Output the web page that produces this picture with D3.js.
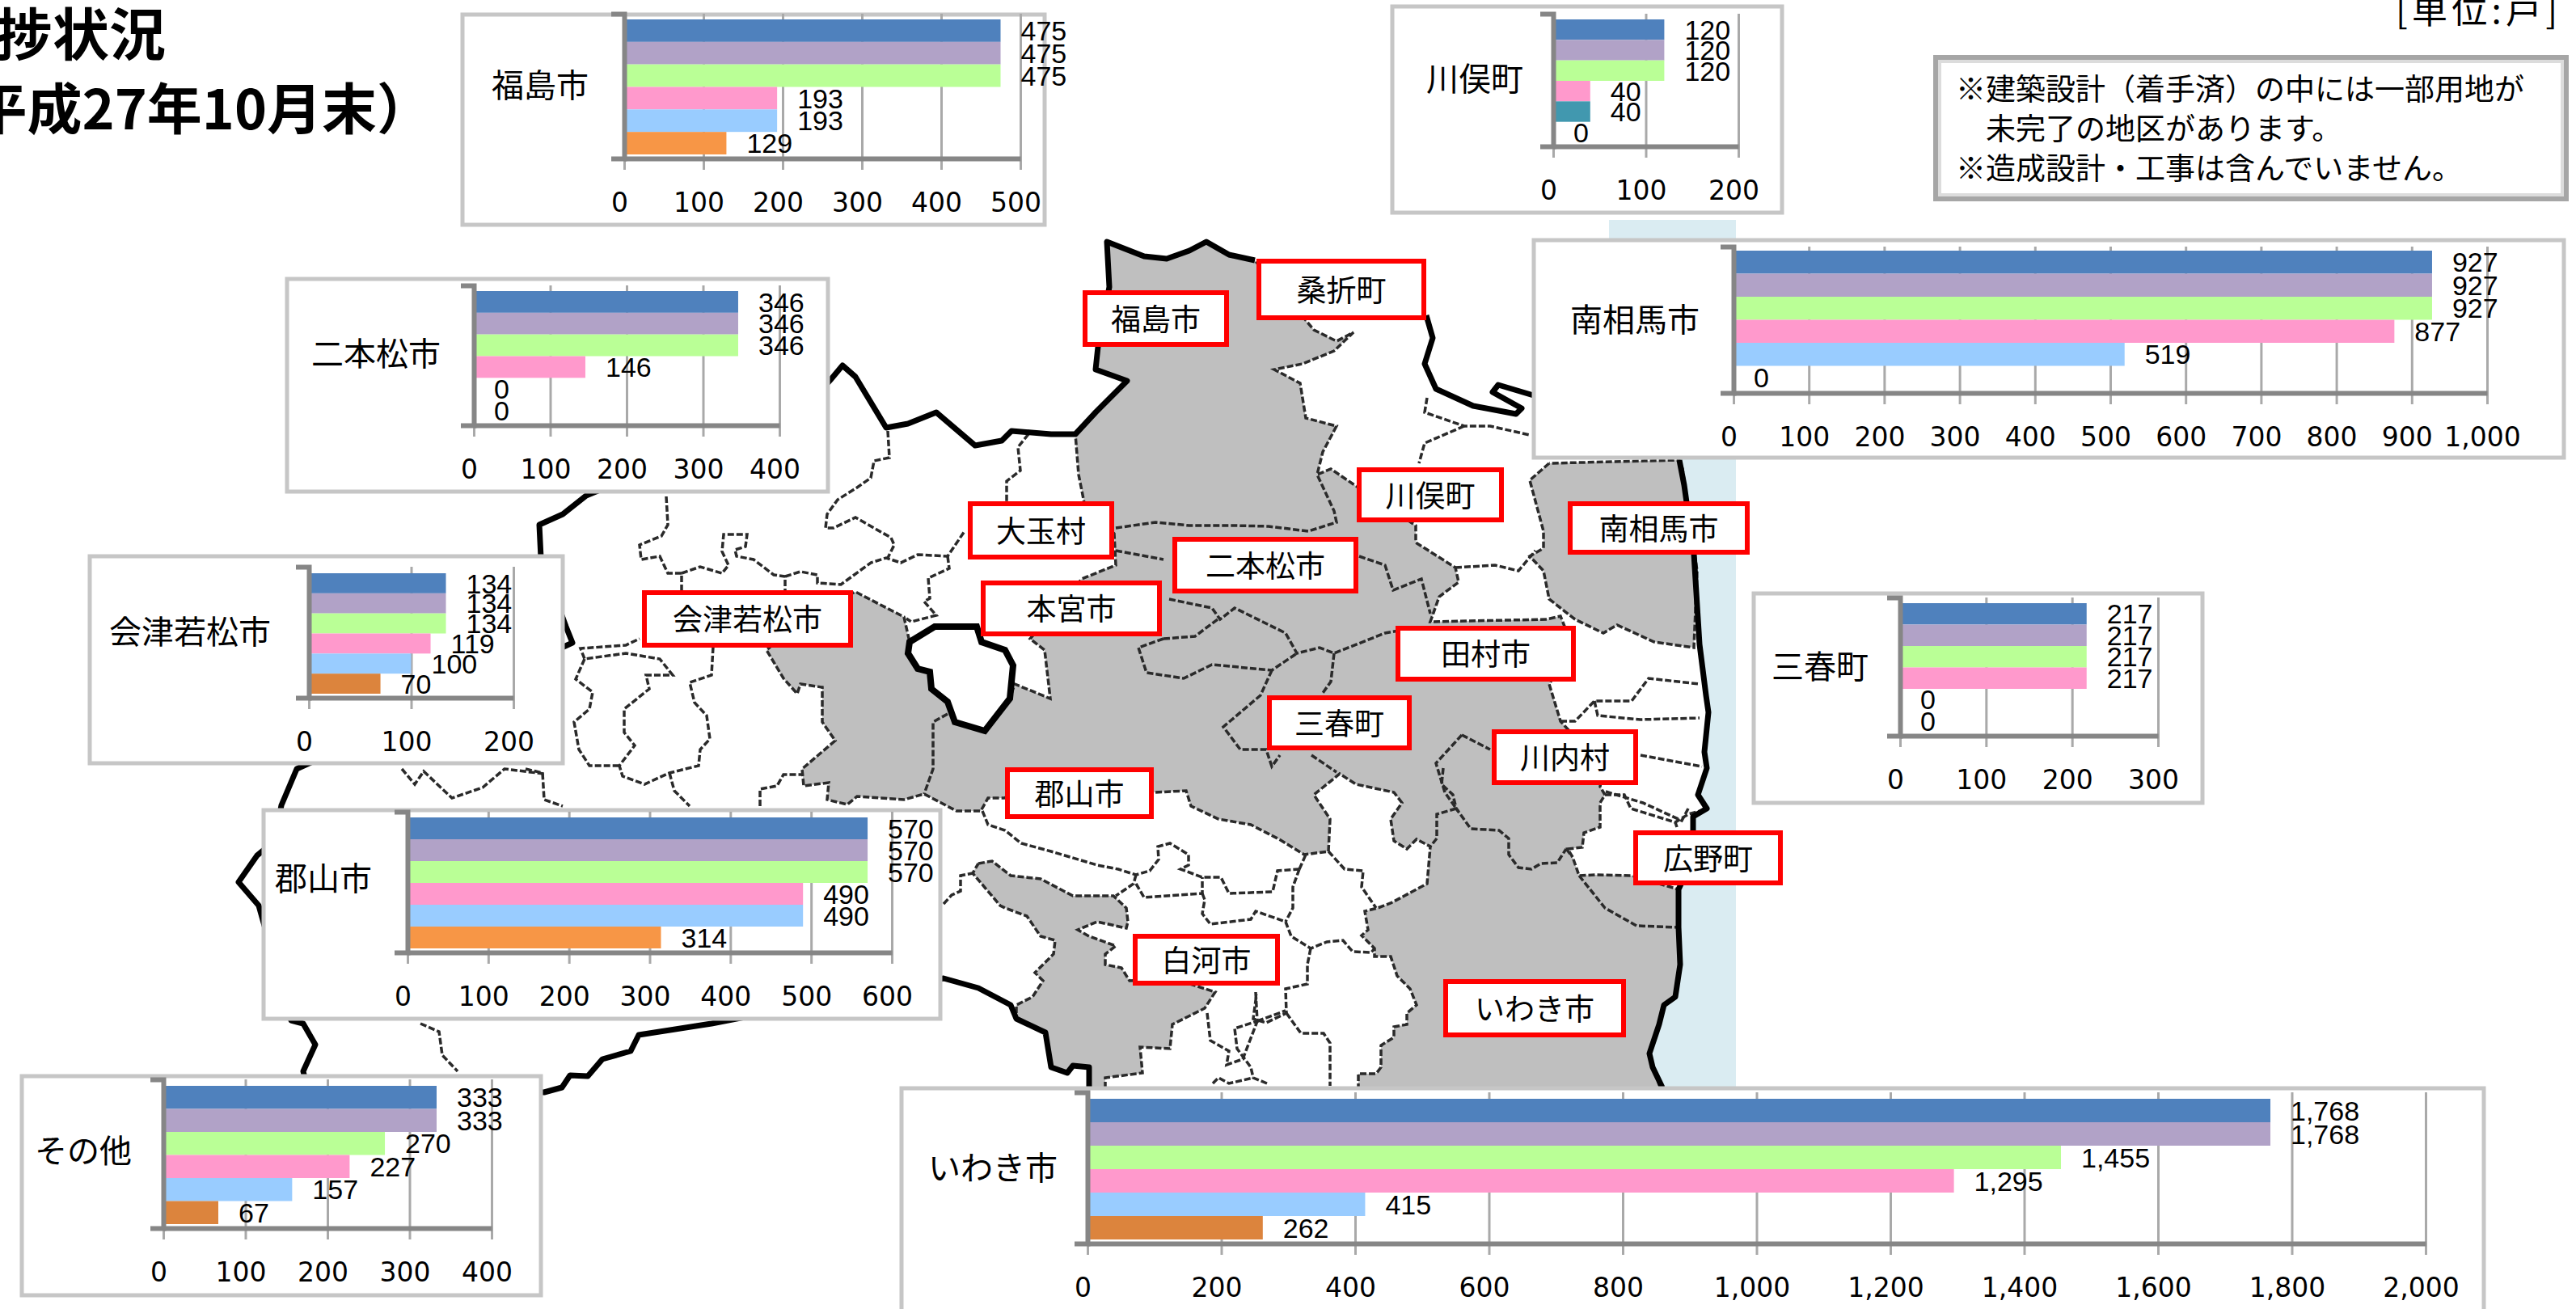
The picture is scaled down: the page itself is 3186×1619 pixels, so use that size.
<!DOCTYPE html>
<html lang="ja">
<head>
<meta charset="utf-8">
<title>進捗状況</title>
<script src="https://cdnjs.cloudflare.com/ajax/libs/d3/7.8.5/d3.min.js"></script>
<style>
  html, body { margin: 0; padding: 0; background: #fff; overflow: hidden; }
  svg { display: block; }
  .jp { font-family: "Noto Sans CJK JP", "Noto Sans", sans-serif; fill: #000; }
  .value { font-family: "Liberation Sans", sans-serif; font-size: 34px; fill: #000; }
  .tick-label { font-family: "DejaVu Sans", sans-serif; font-size: 33px; fill: #000; }
</style>
</head>
<body>
<svg id="chart" width="3186" height="1619" viewBox="0 0 3186 1619"></svg>
<script>
// Households per municipality, six stages each
const fukushimaValues   = [475, 475, 475, 193, 193, 129];
const nihonmatsuValues  = [346, 346, 346, 146, 0, 0];
const aizuValues        = [134, 134, 134, 119, 100, 70];
const koriyamaValues    = [570, 570, 570, 490, 490, 314];
const otherValues       = [333, 333, 270, 227, 157, 67];
const kawamataValues    = [120, 120, 120, 40, 40, 0];
const minamisomaValues  = [927, 927, 927, 877, 519, 0];
const miharuValues      = [217, 217, 217, 217, 0, 0];
const iwakiValues       = [1768, 1768, 1455, 1295, 415, 262];

// Axis tick labels
const ticks200  = [0, 100, 200];
const ticks300  = [0, 100, 200, 300];
const ticks400  = [0, 100, 200, 300, 400];
const ticks500  = [0, 100, 200, 300, 400, 500];
const ticks600  = [0, 100, 200, 300, 400, 500, 600];
const ticks1000 = [0, 100, 200, 300, 400, 500, 600, 700, 800, 900, 1000];
const ticks2000 = [0, 200, 400, 600, 800, 1000, 1200, 1400, 1600, 1800, 2000];

// Bar fills by stage
const stageColors = ["#4f81bd", "#b1a2c7", "#baff96", "#ff99cc", "#99ccff", "#f79646"];
const darkOrange = "#dc843d";
const teal = "#4198af";

// Place names on the map
const placeNames = ["福島市", "桑折町", "川俣町", "南相馬市", "大玉村", "二本松市", "本宮市", "会津若松市",
                    "田村市", "三春町", "川内村", "郡山市", "広野町", "白河市", "いわき市"];
const placeBoxes = [
  [1339, 359, 1520, 429], [1554, 320, 1764, 396], [1678, 578, 1860, 646], [1939, 620, 2164, 686],
  [1197, 620, 1378, 692], [1450, 664, 1680, 734], [1213, 718, 1437, 787], [794, 730, 1055, 801],
  [1726, 774, 1949, 843], [1567, 860, 1746, 928], [1845, 902, 2026, 971], [1243, 949, 1427, 1013],
  [2020, 1027, 2205, 1095], [1401, 1155, 1583, 1219], [1785, 1211, 2011, 1283]
];

// Chart panels: frame, plot area and title position
const panels = [
  { name: "福島市", values: fukushimaValues, ticks: ticks500, frame: [570, 16, 1294, 280], x0: 772, xEnd: 1262, top: 24, axisY: 196, gridTop: 17, title: [668, 106] },
  { name: "二本松市", values: nihonmatsuValues, ticks: ticks400, frame: [353, 343, 1026, 610], x0: 586, xEnd: 964, top: 360, axisY: 526, gridTop: 353, title: [465, 438] },
  { name: "会津若松市", values: aizuValues, ticks: ticks200, frame: [109, 686, 698, 946], x0: 382, xEnd: 635, top: 709, axisY: 863, gridTop: 701, title: [235, 782], last: darkOrange },
  { name: "郡山市", values: koriyamaValues, ticks: ticks600, frame: [324, 1000, 1165, 1262], x0: 504, xEnd: 1103, top: 1011, axisY: 1178, gridTop: 1004, title: [400, 1087] },
  { name: "その他", values: otherValues, ticks: ticks400, frame: [25, 1329, 671, 1604], x0: 202, xEnd: 608, top: 1343, axisY: 1519, gridTop: 1335, title: [103, 1424], last: darkOrange },
  { name: "川俣町", values: kawamataValues, ticks: ticks200, frame: [1720, 6, 2206, 265], x0: 1921, xEnd: 2150, top: 24, axisY: 181, gridTop: 17, title: [1824, 98], fifth: teal },
  { name: "南相馬市", values: minamisomaValues, ticks: ticks1000, frame: [1895, 295, 3173, 568], x0: 2144, xEnd: 3076, top: 310, axisY: 486, gridTop: 305, title: [2022, 396] },
  { name: "三春町", values: miharuValues, ticks: ticks300, frame: [2167, 732, 2726, 995], x0: 2350, xEnd: 2669, top: 746, axisY: 910, gridTop: 739, title: [2251, 825] },
  { name: "いわき市", values: iwakiValues, ticks: ticks2000, frame: [1113, 1344, 3074, 1640], x0: 1345, xEnd: 3000, top: 1359, axisY: 1538, gridTop: 1351, title: [1228, 1445], last: darkOrange }
];

// Shaded municipalities
const centralArea = [
  [1369,299],[1415,317],[1443,320],[1471,310],[1492,299],[1520,315],[1552,322],[1625,408],[1653,422],[1674,411],
  [1650,434],[1611,450],[1576,457],[1608,474],[1615,517],[1653,527],[1636,559],[1629,587],[1646,580],[1674,599],
  [1751,650],[1751,671],[1800,702],[1804,720],[1780,738],[1769,769],[1913,766],[1930,762],[1945,800],[1916,846],
  [1930,892],[1983,950],[1979,973],[1985,983],[1979,993],[1979,1023],[1959,1030],[1957,1048],[1939,1050],[1945,1060],
  [1953,1083],[1973,1082],[2018,1083],[2076,1100],[2076,1147],[2078,1193],[2072,1233],[2058,1243],[2052,1267],[2040,1303],
  [2044,1320],[2056,1352],[1680,1352],[1680,1328],[1702,1328],[1708,1320],[1708,1293],[1724,1283],[1724,1270],[1740,1267],
  [1740,1253],[1752,1243],[1744,1223],[1728,1207],[1720,1183],[1700,1183],[1700,1173],[1684,1157],[1692,1150],[1688,1127],
  [1704,1123],[1720,1117],[1765,1093],[1769,1047],[1752,1038],[1740,1050],[1724,1040],[1720,1013],[1734,993],[1724,980],
  [1677,970],[1657,957],[1625,983],[1645,1013],[1643,1053],[1613,1057],[1582,1038],[1547,1020],[1507,1013],[1473,997],
  [1467,978],[1428,980],[1300,960],[1242,987],[1222,987],[1213,1003],[1183,1003],[1143,982],[1118,989],[1060,985],
  [1048,995],[1023,989],[1025,968],[994,972],[992,951],[1033,916],[1017,893],[1017,850],[990,846],[986,858],
  [969,839],[948,804],[1000,760],[1058,732],[1118,763],[1125,794],[1123,808],[1135,827],[1150,831],[1152,852],
  [1172,868],[1181,893],[1218,904],[1249,864],[1255,846],[1299,864],[1292,804],[1274,790],[1338,716],[1380,699],
  [1378,660],[1341,622],[1334,587],[1330,537],[1355,510],[1394,471],[1355,457],[1358,429],[1372,355]
];
const coastalNorthArea = [
  [1916,573],[1892,594],[1909,657],[1909,678],[1892,688],[1909,706],[1916,741],[1948,766],[1983,783],[2000,773],
  [2046,794],[2095,801],[2099,706],[2081,580],[2077,569]
];
const southWestArea = [
  [1210,1068],[1227,1065],[1250,1083],[1287,1087],[1327,1108],[1377,1108],[1393,1123],[1395,1140],[1393,1148],[1357,1140],
  [1333,1150],[1347,1158],[1380,1170],[1367,1180],[1367,1193],[1387,1197],[1397,1213],[1450,1210],[1503,1227],[1490,1247],
  [1450,1267],[1447,1297],[1410,1295],[1413,1327],[1367,1333],[1367,1352],[1347,1352],[1347,1320],[1327,1318],[1320,1327],
  [1300,1320],[1293,1277],[1257,1260],[1257,1243],[1277,1233],[1290,1213],[1280,1203],[1303,1180],[1305,1163],[1287,1158],
  [1270,1133],[1243,1123],[1237,1120],[1203,1080]
];
const lake = [
  [1125,794],[1156,775],[1208,775],[1214,794],[1243,804],[1253,823],[1249,864],[1218,904],[1181,893],[1172,868],
  [1152,852],[1150,831],[1135,827],[1123,808]
];

// Coastline and prefectural border
const coastline = [
  [2077,569],[2083,600],[2095,685],[2102,797],[2110,860],[2113,881],[2108,930],[2111,950],[2100,983],[2111,1000],
  [2094,1010],[2094,1027],[2090,1070],[2076,1100],[2076,1147],[2078,1193],[2072,1233],[2058,1243],[2052,1267],[2040,1303],
  [2044,1320],[2056,1345]
];
const borders = [
  [[1552,322],[1520,315],[1492,299],[1471,310],[1443,320],[1415,317],[1369,299],[1372,355],[1358,429],[1355,457],[1394,471],
   [1355,510],[1330,537],[1300,537],[1251,533],[1239,545],[1206,551],[1158,510],[1123,524],[1096,529],[1058,466],[1042,452],
   [1027,470],[1000,500],[725,613],[696,636],[667,649],[669,690],[700,775],[708,795],[367,951],[348,996],[340,1040],[318,1058],
   [295,1091],[320,1120],[360,1262],[375,1266],[390,1292],[375,1325],[380,1345],[673,1351],[695,1345],[705,1330],[727,1331],
   [745,1310],[780,1300],[790,1280],[880,1266],[1167,1210],[1210,1222],[1250,1243],[1257,1260],[1293,1277],[1300,1320],
   [1320,1327],[1327,1318],[1347,1320],[1347,1345]],
  [[1764,390],[1772,418],[1762,450],[1776,481],[1822,502],[1875,512],[1882,505],[1846,485],[1853,476],[1900,490]]
];

// Municipal boundaries
const boundaries = [
  [[824,614],[826,649],[818,663],[791,674],[793,692],[816,688],[826,709],[843,709],[843,730]],
  [[843,709],[866,701],[893,709],[901,699],[893,682],[895,661],[924,661],[922,676],[909,680],[911,688],[932,692],[957,711],[971,713],[971,730]],
  [[971,713],[990,707],[1011,711],[1011,721],[1040,723],[1077,696],[1096,690],[1114,696],[1135,686],[1172,688],[1193,657]],
  [[1098,533],[1100,566],[1081,570],[1077,591],[1060,603],[1036,618],[1023,636],[1021,653],[1031,653],[1058,640],[1102,665],[1106,674],[1098,690]],
  [[1172,688],[1174,703],[1148,715],[1150,740],[1143,744],[1158,761],[1127,769],[1121,765]],
  [[1272,537],[1259,553],[1262,582],[1245,595],[1245,620]],
  [[882,800],[880,835],[853,844],[859,869],[874,885],[878,914],[866,927],[864,947],[828,956],[797,970],[770,960],[766,947],[785,922],[772,906],[772,877],[803,852],[799,835],[832,835],[816,815],[774,808],[723,815],[718,802],[774,798],[791,790]],
  [[723,815],[712,840],[733,856],[729,877],[710,893],[716,927],[729,947],[766,947]],
  [[650,951],[671,956],[673,989],[696,997]],
  [[828,956],[834,978],[853,997]],
  [[940,997],[940,976],[961,972],[969,958],[992,958]],
  [[497,951],[513,970],[524,954],[559,987],[597,974],[624,951],[673,957]],
  [[520,1266],[543,1276],[547,1305],[566,1325]],
  [[1167,1118],[1177,1107],[1188,1102],[1188,1083],[1203,1080]],
  [[1215,1003],[1222,1020],[1243,1027],[1263,1043],[1300,1053],[1357,1070],[1383,1075],[1405,1082],[1422,1077],[1433,1063],[1432,1047],[1447,1043],[1470,1057],[1470,1070],[1460,1075],[1487,1085],[1510,1085],[1520,1105],[1574,1103],[1580,1077],[1607,1075]],
  [[1405,1082],[1402,1093],[1380,1108]],
  [[1405,1093],[1415,1110],[1487,1105],[1487,1085]],
  [[1487,1105],[1490,1113],[1487,1130],[1497,1143],[1547,1137],[1553,1127],[1590,1140],[1597,1158],[1621,1173],[1641,1165],[1661,1163],[1673,1177],[1696,1178],[1700,1173]],
  [[1607,1075],[1599,1097],[1599,1123],[1590,1140]],
  [[1607,1075],[1615,1057]],
  [[1643,1053],[1663,1075],[1686,1077],[1684,1097],[1702,1123]],
  [[1621,1173],[1617,1193],[1617,1217],[1590,1223],[1591,1253],[1566,1265],[1550,1260],[1554,1230]],
  [[1591,1253],[1609,1278],[1637,1278],[1645,1290],[1645,1343]],
  [[1553,1227],[1555,1263],[1527,1272],[1530,1297],[1547,1320],[1550,1333],[1567,1340]],
  [[1500,1340],[1507,1333],[1520,1340],[1550,1333]],
  [[1493,1253],[1497,1287],[1520,1300],[1517,1317],[1537,1310],[1555,1263]],
  [[1555,1263],[1590,1250]],
  // inside the shaded areas
  [[1380,653],[1429,646],[1471,650],[1527,650],[1569,651],[1618,657],[1653,646],[1650,632],[1629,587]],
  [[1380,681],[1439,692]],
  [[1681,688],[1713,699],[1723,730],[1758,716],[1769,759]],
  [[1446,741],[1499,752],[1509,766],[1527,752],[1590,783],[1604,808],[1632,801],[1650,808],[1713,783],[1730,780]],
  [[1439,790],[1478,787],[1506,766]],
  [[1439,790],[1408,801],[1418,832],[1464,839],[1499,822],[1573,829],[1604,808]],
  [[1573,829],[1559,860],[1513,899],[1534,927],[1566,927],[1573,948],[1583,934]],
  [[1622,934],[1653,955]],
  [[1650,808],[1646,843],[1636,857]],
  [[1808,909],[1843,927]],
  [[1808,909],[1776,944],[1787,980],[1804,1004]],
  [[1785,950],[1783,970],[1797,983],[1801,1000],[1819,1025],[1854,1027],[1866,1037],[1866,1057],[1878,1073],[1894,1075],[1906,1068],[1926,1067],[1937,1050]],
  [[1801,1000],[1777,1007],[1777,1037],[1769,1047]],
  [[1172,883],[1154,893],[1154,951],[1143,982]],
  // north and east of the shaded areas
  [[1765,492],[1762,510],[1811,527],[1843,527],[1892,538]],
  [[1811,527],[1762,548],[1755,573]],
  [[1800,702],[1849,699],[1878,706],[1899,681]],
  [[1930,892],[1948,892],[1972,867],[1983,867],[2018,867],[2039,839],[2102,846]],
  [[1972,867],[1976,885],[2029,890],[2102,888]],
  [[2029,934],[2105,948]],
  [[1986,979],[2032,993],[2080,1015],[2088,1000]],
  [[1985,983],[2009,983],[2017,1000],[2072,1017],[2088,1007],[2103,1003]],
  [[2072,1017],[2074,1023]],
  [[1953,1083],[1985,1123],[2024,1145],[2076,1147]],
  [[1937,1050],[1945,1060]]
];

const seaBand = [1990, 272, 2147, 1345];

const svg = d3.select("#chart");
const mapX = d3.scaleIdentity();
const mapY = d3.scaleIdentity();
const mapLine = d3.line().x(d => mapX(d[0])).y(d => mapY(d[1]));
const closed = pts => mapLine(pts) + "Z";
const dashed = { stroke: "#2a2a2a", width: 3.5, dash: "8 3" };

// Sea behind the coast
const base = svg.append("g");
base.append("rect")
  .attr("x", seaBand[0]).attr("y", seaBand[1])
  .attr("width", seaBand[2] - seaBand[0]).attr("height", seaBand[3] - seaBand[1])
  .attr("fill", "#daecf2");
base.append("path")
  .attr("d", closed([[1900, 295], [2077, 295]].concat(coastline, [[1900, 1345]])))
  .attr("fill", "#fff");

// Shaded municipalities
base.selectAll("path.area").data([centralArea, coastalNorthArea, southWestArea]).join("path")
  .attr("class", "area")
  .attr("d", closed)
  .attr("fill", "#bfbfbf");

// Municipal boundaries
const outlineData = [centralArea, coastalNorthArea, southWestArea].map(a => a.concat([a[0]])).concat(boundaries);
base.selectAll("path.boundary").data(outlineData).join("path")
  .attr("class", "boundary")
  .attr("d", mapLine)
  .attr("fill", "none")
  .attr("stroke", dashed.stroke)
  .attr("stroke-width", dashed.width)
  .attr("stroke-dasharray", dashed.dash);

// Coast, lake and prefectural border
base.append("path").attr("d", closed(lake)).attr("fill", "#fff").attr("stroke", "#000").attr("stroke-width", 8);
base.selectAll("path.border").data(borders.concat([coastline])).join("path")
  .attr("class", "border")
  .attr("d", mapLine)
  .attr("fill", "none")
  .attr("stroke", "#000")
  .attr("stroke-width", 7)
  .attr("stroke-linejoin", "round");

// Place labels
const place = svg.append("g").selectAll("g").data(placeNames).join("g");
place.append("rect")
  .attr("x", (d, i) => placeBoxes[i][0] + 3)
  .attr("y", (d, i) => placeBoxes[i][1] + 3)
  .attr("width", (d, i) => placeBoxes[i][2] - placeBoxes[i][0] - 6)
  .attr("height", (d, i) => placeBoxes[i][3] - placeBoxes[i][1] - 6)
  .attr("fill", "#fff").attr("stroke", "#ff0000").attr("stroke-width", 6);
place.append("text")
  .attr("class", "jp")
  .attr("x", (d, i) => (placeBoxes[i][0] + placeBoxes[i][2]) / 2)
  .attr("y", (d, i) => (placeBoxes[i][1] + placeBoxes[i][3]) / 2)
  .attr("dy", "0.4em")
  .attr("text-anchor", "middle")
  .attr("font-size", 37)
  .text(d => d);

// One framed bar chart per municipality
panels.forEach(p => {
  const g = svg.append("g");
  const [fx0, fy0, fx1, fy1] = p.frame;
  g.append("rect")
    .attr("x", fx0 + 2).attr("y", fy0 + 2)
    .attr("width", fx1 - fx0 - 4).attr("height", fy1 - fy0 - 4)
    .attr("fill", "#fff").attr("stroke", "#c6c6c6").attr("stroke-width", 5);

  const x = d3.scaleLinear().domain([0, d3.max(p.ticks)]).range([p.x0, p.xEnd]);
  const y = d3.scaleBand().domain(d3.range(p.values.length)).range([p.top, p.axisY - 5]);
  const yLine = d3.scaleLinear().range([p.gridTop, p.axisY]);

  // Gridlines, running a little past the plot at both ends
  g.append("g")
    .attr("transform", `translate(0,${p.axisY + 14})`)
    .call(d3.axisBottom(x).tickValues(p.ticks).tickSize(-(p.axisY + 14 - p.gridTop)).tickFormat("").tickSizeOuter(0))
    .call(s => s.select(".domain").remove())
    .selectAll("line").attr("stroke", "#a9a9a9").attr("stroke-width", 3);

  const fillFor = i => (i === 5 && p.last) || (i === 4 && p.fifth) || stageColors[i];
  g.selectAll("rect.bar").data(p.values).join("rect")
    .attr("class", "bar")
    .attr("x", x(0))
    .attr("y", (d, i) => y(i))
    .attr("width", d => x(d) - x(0))
    .attr("height", y.bandwidth())
    .attr("fill", (d, i) => fillFor(i));

  // Axes
  g.append("g")
    .attr("transform", `translate(${p.x0},0)`)
    .call(d3.axisLeft(yLine).tickValues([]).tickSizeOuter(16))
    .select(".domain").attr("fill", "none").attr("stroke", "#868686").attr("stroke-width", 6);
  const xAxis = g.append("g")
    .attr("transform", `translate(0,${p.axisY})`)
    .call(d3.axisBottom(x).tickValues(p.ticks).tickSize(0).tickPadding(43).tickFormat(d3.format(",")));
  xAxis.select(".domain").attr("stroke", "#868686").attr("stroke-width", 6);
  xAxis.selectAll("text")
    .attr("class", "tick-label")
    .attr("font-family", null).attr("font-size", null)
    .attr("dx", -6);

  // Value labels beside the bars
  g.selectAll("text.value").data(p.values).join("text")
    .attr("class", "value")
    .attr("x", d => x(d) + 25)
    .attr("y", (d, i) => y(i) + y.bandwidth() / 2)
    .attr("dy", "0.36em")
    .text(d3.format(","));

  g.append("text")
    .attr("class", "jp")
    .attr("x", p.title[0]).attr("y", p.title[1])
    .attr("dy", "0.36em")
    .attr("text-anchor", "middle")
    .attr("font-size", 40)
    .text(p.name);
});

// Heading, unit and notes
svg.append("text").attr("class", "jp")
  .attr("x", 205).attr("y", 69)
  .attr("text-anchor", "end").attr("font-size", 70).attr("font-weight", 700)
  .text("進捗状況");
svg.append("text").attr("class", "jp")
  .attr("x", 534).attr("y", 160)
  .attr("text-anchor", "end").attr("font-size", 68).attr("font-weight", 700)
  .text("（平成27年10月末）");
svg.append("text").attr("class", "jp")
  .attr("x", 2963).attr("y", 29)
  .attr("font-size", 44)
  .attr("textLength", 200).attr("lengthAdjust", "spacing")
  .text("[単位:戸]");

const noteLines = ["※建築設計（着手済）の中には一部用地が", "　未完了の地区があります。", "※造成設計・工事は含んでいません。"];
const note = svg.append("g");
note.append("rect").attr("x", 2394).attr("y", 71).attr("width", 780).attr("height", 175)
  .attr("fill", "#fff").attr("stroke", "#a6a6a6").attr("stroke-width", 6);
note.append("rect").attr("x", 2399).attr("y", 76).attr("width", 770).attr("height", 165)
  .attr("fill", "none").attr("stroke", "#dcdcdc").attr("stroke-width", 4);
note.selectAll("text").data(noteLines).join("text")
  .attr("class", "jp")
  .attr("x", 2419)
  .attr("y", (d, i) => 111 + i * 49)
  .attr("dy", "0.36em")
  .attr("font-size", 37)
  .text(d => d);
</script>
</body>
</html>
